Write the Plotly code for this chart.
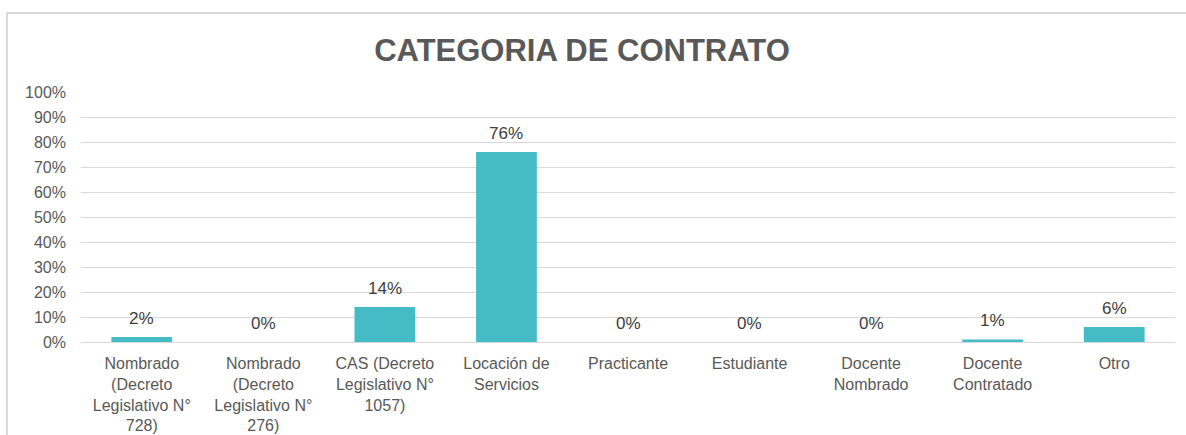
import plotly.graph_objects as go

categories = [
    "Nombrado<br>(Decreto<br>Legislativo N°<br>728)",
    "Nombrado<br>(Decreto<br>Legislativo N°<br>276)",
    "CAS (Decreto<br>Legislativo N°<br>1057)",
    "Locación de<br>Servicios",
    "Practicante",
    "Estudiante",
    "Docente<br>Nombrado",
    "Docente<br>Contratado",
    "Otro",
]
values = [2, 0, 14, 76, 0, 0, 0, 1, 6]
value_labels = ["2%", "0%", "14%", "76%", "0%", "0%", "0%", "1%", "6%"]
tick_vals = [0, 10, 20, 30, 40, 50, 60, 70, 80, 90, 100]
tick_text = ["0%", "10%", "20%", "30%", "40%", "50%", "60%", "70%", "80%", "90%", "100%"]

FONT = "Liberation Sans, Arial, sans-serif"

fig = go.Figure()
fig.add_trace(go.Bar(
    x=categories, y=values,
    width=0.5,
    marker=dict(color="#44BBC5", line=dict(width=0)),
    hoverinfo="skip",
))

for c, v, t in zip(categories, values, value_labels):
    fig.add_annotation(
        x=c, y=v, text=t, showarrow=False,
        yanchor="middle", yshift=19,
        font=dict(family=FONT, size=17, color="#404040"),
    )

# outer chart border
fig.add_shape(
    type="rect", xref="paper", yref="paper",
    x0=-0.0676, x1=1.05, y0=-0.5, y1=1.316,
    line=dict(color="#D9D9D9", width=2), fillcolor="rgba(0,0,0,0)",
    layer="below",
)

fig.update_layout(
    width=1186, height=435,
    margin=dict(l=81, r=11, t=92, b=93, autoexpand=False),
    paper_bgcolor="white", plot_bgcolor="white",
    showlegend=False,
    title=dict(
        text="<b>CATEGORIA DE CONTRATO</b>",
        font=dict(family=FONT, size=31, color="#595959"),
        xref="container", x=0.4907, xanchor="center",
        yref="container", y=0.885, yanchor="middle",
    ),
    bargap=0.5,
)
fig.update_xaxes(
    showgrid=False, showline=False, zeroline=False,
    ticks="", ticklabelstandoff=10, automargin=False,
    tickfont=dict(family=FONT, size=16, color="#595959"),
    tickangle=0,
)
fig.update_yaxes(
    range=[0, 100], tickvals=tick_vals, ticktext=tick_text,
    showgrid=True, gridcolor="#D9D9D9", gridwidth=1,
    zeroline=True, zerolinecolor="#D9D9D9", zerolinewidth=1,
    showline=False, ticks="", automargin=False,
    tickfont=dict(family=FONT, size=16, color="#595959"),
    ticklabelstandoff=14,
)

fig.write_html(
    "out.html",
    config={"displayModeBar": False},
    post_script="document.body.style.margin='0';",
)
